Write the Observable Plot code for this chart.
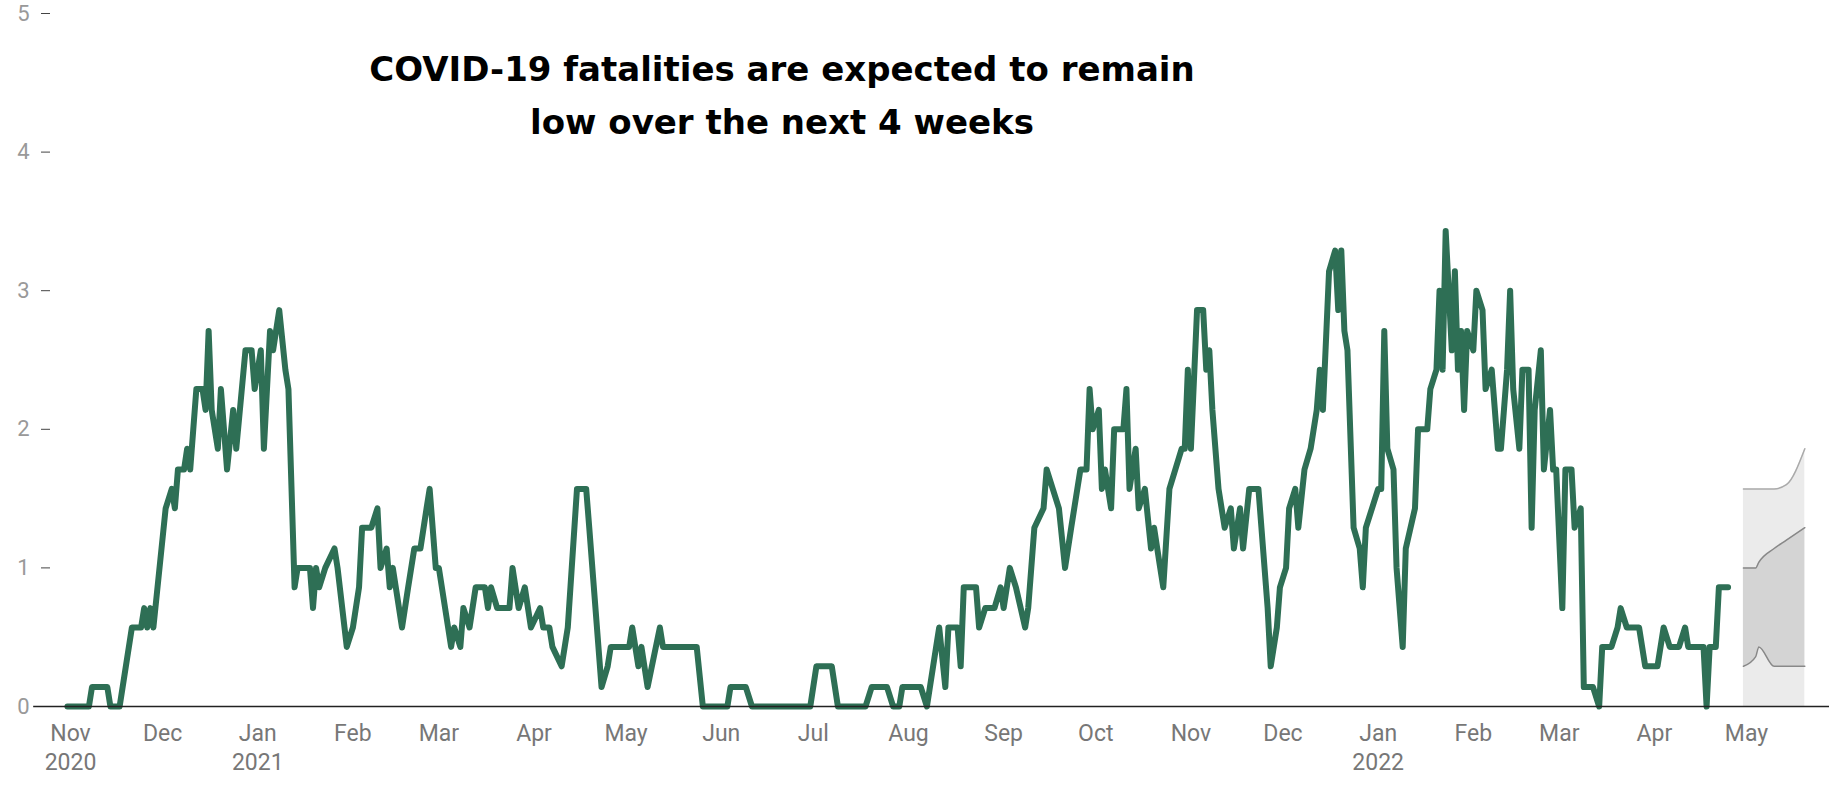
<!DOCTYPE html>
<html><head><meta charset="utf-8">
<script src="https://cdn.jsdelivr.net/npm/d3@7"></script>
<script src="https://cdn.jsdelivr.net/npm/@observablehq/plot@0.6"></script>
<style>
body{margin:0;background:#fff;font-family:"Open Sans",sans-serif;}
#wrap{position:relative;width:1829px;height:786px;}
#title{position:absolute;left:182px;width:1200px;top:43px;text-align:center;font-family:"DejaVu Sans",sans-serif;font-weight:700;font-size:34px;line-height:53px;color:#000;}
</style></head><body>
<div id="wrap"><div id="chart"></div>
<div id="title">COVID-19 fatalities are expected to remain<br>low over the next 4 weeks</div></div>
<script>
const startDate = "2020-11-01";
// [days since 2020-11-01, 7-day average deaths]
const observed = [
[-1,0],[6,0],[7,0.14],[12,0.14],[13,0],[16,0],[20,0.57],[23,0.57],[24,0.71],[25,0.57],[26,0.71],[27,0.57],
[31,1.43],[33,1.57],[34,1.43],[35,1.71],[37,1.71],[38,1.86],[39,1.71],[40,2.0],[41,2.29],[43,2.29],[44,2.14],
[45,2.71],[46,2.14],[48,1.86],[49,2.29],[51,1.71],[53,2.14],[54,1.86],[57,2.57],[59,2.57],[60,2.29],[62,2.57],
[63,1.86],[65,2.71],[66,2.57],[68,2.86],[70,2.43],[71,2.29],[73,0.86],[74,1.0],[78,1.0],[79,0.71],[80,1.0],
[81,0.86],[83,1.0],[86,1.14],[87,1.0],[90,0.43],[92,0.57],[94,0.86],[95,1.29],[98,1.29],[100,1.43],[101,1.0],
[103,1.14],[104,0.86],[105,1.0],[108,0.57],[110,0.86],[112,1.14],[114,1.14],[116,1.43],[117,1.57],[119,1.0],
[120,1.0],[124,0.43],[125,0.57],[127,0.43],[128,0.71],[130,0.57],[132,0.86],[135,0.86],[136,0.71],[137,0.86],
[139,0.71],[143,0.71],[144,1.0],[146,0.71],[148,0.86],[150,0.57],[153,0.71],[154,0.57],[156,0.57],[157,0.43],
[160,0.29],[162,0.57],[165,1.57],[168,1.57],[169,1.29],[173,0.14],[175,0.29],[176,0.43],[182,0.43],[183,0.57],
[185,0.29],[186,0.43],[188,0.14],[192,0.57],[193,0.43],[204,0.43],[206,0],[214,0],[215,0.14],[220,0.14],
[222,0],[241,0],[243,0.29],[248,0.29],[250,0],[259,0],[261,0.14],[266,0.14],[268,0],[270,0],[271,0.14],
[277,0.14],[279,0],[282,0.43],[283,0.57],[285,0.14],[286,0.57],[289,0.57],[290,0.29],[291,0.86],[295,0.86],
[296,0.57],[298,0.71],[301,0.71],[303,0.86],[304,0.71],[306,1.0],[308,0.86],[311,0.57],[312,0.71],[314,1.29],
[317,1.43],[318,1.71],[320,1.57],[322,1.43],[324,1.0],[326,1.29],[329,1.71],[331,1.71],[332,2.29],[333,2.0],
[335,2.14],[336,1.57],[337,1.71],[339,1.43],[340,2.0],[343,2.0],[344,2.29],[345,1.57],[347,1.86],[348,1.43],
[350,1.57],[352,1.14],[353,1.29],[355,1.0],[356,0.86],[358,1.57],[362,1.86],[363,1.86],[364,2.43],[365,1.86],
[367,2.86],[369,2.86],[370,2.43],[371,2.57],[372,2.14],[374,1.57],[376,1.29],[378,1.43],[379,1.14],[381,1.43],
[382,1.14],[384,1.57],[387,1.57],[390,0.71],[391,0.29],[393,0.57],[394,0.86],[396,1.0],[397,1.43],[399,1.57],
[400,1.29],[402,1.71],[404,1.86],[406,2.14],[407,2.43],[408,2.14],[410,3.14],[412,3.29],[413,2.86],[414,3.29],
[415,2.71],[416,2.57],[418,1.29],[420,1.14],[421,0.86],[422,1.29],[424,1.43],[426,1.57],[427,1.57],[428,2.71],
[429,1.86],[431,1.71],[432,1.0],[434,0.43],[435,1.14],[438,1.43],[439,2.0],[442,2.0],[443,2.29],[445,2.43],
[446,3.0],[447,2.43],[448,3.43],[450,2.57],[451,3.14],[452,2.43],[453,2.71],[454,2.14],[455,2.71],[457,2.57],
[458,3.0],[460,2.86],[461,2.29],[463,2.43],[465,1.86],[466,1.86],[468,2.43],[469,3.0],[470,2.29],[472,1.86],
[473,2.43],[475,2.43],[476,1.29],[477,2.14],[479,2.57],[480,1.71],[482,2.14],[483,1.71],[484,1.71],[486,0.71],
[487,1.71],[489,1.71],[490,1.29],[492,1.43],[493,0.14],[496,0.14],[498,0],[499,0.43],[502,0.43],[504,0.57],
[505,0.71],[507,0.57],[511,0.57],[513,0.29],[517,0.29],[519,0.57],[521,0.43],[524,0.43],[526,0.57],[527,0.43],
[531,0.43],[532,0.43],[533,0],[534,0.43],[536,0.43],[537,0.86],[540,0.86]
];
// forecast band
const fDays  = [545,549,550,555,559,565];
const fOuterLo = [0,0,0,0,0,0];
const fOuterHi = [1.57,1.57,1.57,1.57,1.6,1.86];
const fInnerLo = [0.29,0.36,0.43,0.29,0.29,0.29];
const fInnerHi = [1.0,1.0,1.04,1.14,1.2,1.29];
const monthTicks = ["2020-11-01","2020-12-01","2021-01-01","2021-02-01","2021-03-01","2021-04-01","2021-05-01","2021-06-01","2021-07-01","2021-08-01","2021-09-01","2021-10-01","2021-11-01","2021-12-01","2022-01-01","2022-02-01","2022-03-01","2022-04-01","2022-05-01"];
const yTicks = [0,1,2,3,4,5];

const s = new Date(startDate + "T00:00");
const toDate = d => d3.timeDay.offset(s, d);
const series = observed.map(([d,v])=>({date:toDate(d), v}));
const fc = fDays.map((d,i)=>({date:toDate(d), olo:fOuterLo[i], ohi:fOuterHi[i], ilo:fInnerLo[i], ihi:fInnerHi[i]}));
const fmt = d => { const m = d3.timeFormat("%b")(d); return (d.getMonth()===0 || (d.getMonth()===10 && d.getFullYear()===2020)) ? m + "\n" + d.getFullYear() : m; };

const plot = Plot.plot({
  width:1829, height:786,
  marginLeft:50, marginTop:0, marginBottom:0, marginRight:0,
  style:{fontFamily:"Roboto, sans-serif", fontSize:"22px", color:"#999", background:"#fff"},
  x:{type:"utc", domain:[new Date("2020-11-01T00:00"), new Date("2022-05-01T00:00")], range:[70,1746]},
  y:{domain:[0,5], range:[706,13]},
  marks:[
    Plot.areaY(fc,{x:"date", y1:"olo", y2:"ohi", fill:"#ebebeb", curve:"monotone-x"}),
    Plot.areaY(fc,{x:"date", y1:"ilo", y2:"ihi", fill:"#d4d4d4", curve:"monotone-x"}),
    Plot.lineY(fc,{x:"date", y:"ohi", stroke:"#aaa", strokeWidth:1.5, curve:"monotone-x"}),
    Plot.lineY(fc,{x:"date", y:"ihi", stroke:"#888", strokeWidth:1.5, curve:"monotone-x"}),
    Plot.lineY(fc,{x:"date", y:"ilo", stroke:"#888", strokeWidth:1.5, curve:"monotone-x"}),
    Plot.lineY(series,{x:"date", y:"v", stroke:"#2e6f55", strokeWidth:6, strokeLinejoin:"round"}),
    Plot.axisY(yTicks,{tickSize:9, tickPadding:12, stroke:"#444", fill:"#999", fontSize:22, tickFormat:d3.format("d")}),
    Plot.axisX(monthTicks.map(t=>new Date(t+"T00:00")),{anchor:"bottom", y:0, tickSize:0, tickPadding:14, tickFormat:fmt, fill:"#777", fontSize:23, lineHeight:1.25}),
    Plot.ruleY([0],{x1:new Date("2020-10-20T00:00"), x2:new Date("2022-06-30T00:00"), stroke:"#222", strokeWidth:1.5})
  ]
});
document.getElementById("chart").appendChild(plot);
</script></body></html>
